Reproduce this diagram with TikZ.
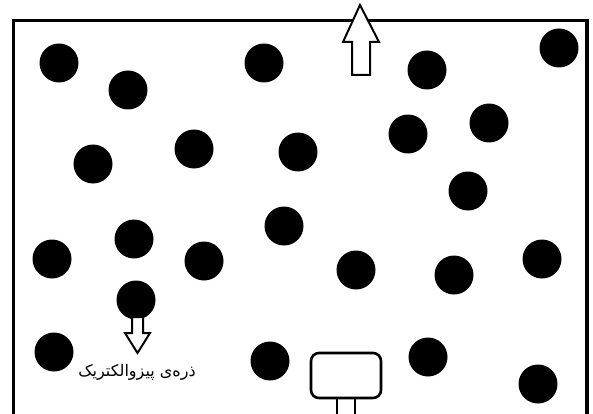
\documentclass[tikz,border=0pt]{standalone}
\usepackage{fontspec}
\newfontfamily\arabicfont[Script=Arabic]{DejaVu Sans}
\TeXXeTstate=1
\begin{document}
\begin{tikzpicture}[x=1pt,y=-1pt,
  particle/.style={circle,fill=black,inner sep=0pt,minimum size=39pt},
  frame/.style={draw=black,line width=3.2pt},
  hollowarrow/.style={draw=black,fill=white,line width=2pt,line join=miter},
  sensor/.style={draw=black,line width=2.6pt,rounded corners=8pt,fill=white}]
\useasboundingbox (0,0) rectangle (593,414);
\clip (0,0) rectangle (593,414);
\fill[white] (0,0) rectangle (593,414);
\draw[frame] (13.5,20.5) rectangle (587,430);
% particles
\foreach \n/\x/\y in {a/59/63, b/128/90, c/264/63, d/427/70, e/559/48,
  f/93/164, g/194/149, h/298/152, i/408/134, j/489/123, k/468/191,
  l/284/226, m/134/239, n/52/259, o/204/261, p/356/270, q/454/275,
  r/542/259, s/136/300, t/54/352, u/270/361, v/428/357, w/538/384}
  \node[particle] (\n) at (\x,\y) {};
% top arrow
\coordinate (topTip) at (360,5);
\draw[hollowarrow] (topTip) -- (379,42) -- (370,42) -- (370,75) -- (352,75) -- (352,42) -- (343,42) -- cycle;
% particle arrow
\coordinate (lblTip) at (137.5,353);
\draw[hollowarrow] (lblTip) -- (150,333) -- (143,333) -- (143,317) -- (132,317) -- (132,333) -- (125,333) -- cycle;
\node[font=\arabicfont\fontsize{16}{18}\selectfont,anchor=center] (label) at (137,372) {\beginR ذره‌ی پیزوالکتریک\endR};
% sensor
\node[sensor,minimum width=70pt,minimum height=45pt,inner sep=0pt] (box) at (346,375.5) {};
\draw[line width=2.6pt] (box.south) ++(-9,0) coordinate (legL) -- ++(0,30);
\draw[line width=2.6pt] (box.south) ++(9,0) coordinate (legR) -- ++(0,30);
\end{tikzpicture}
\end{document}
